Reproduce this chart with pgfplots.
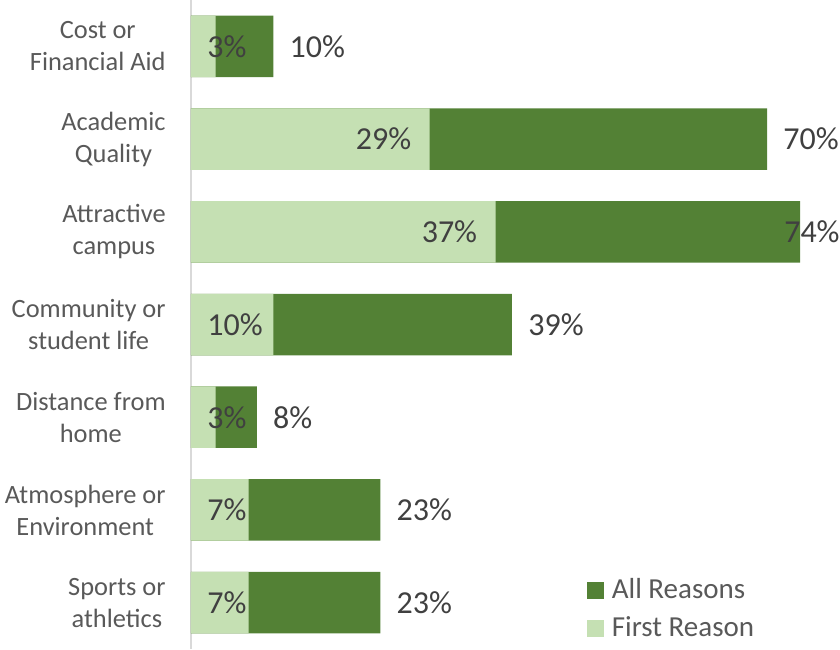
\documentclass[border=0pt]{standalone}
\usepackage{fontspec}
\setmainfont{Carlito}
\usepackage{pgfplots}
\pgfplotsset{compat=1.18}
\definecolor{darkg}{HTML}{538135}
\definecolor{lightg}{HTML}{C5E0B3}
\definecolor{labc}{HTML}{595959}
\definecolor{datc}{HTML}{404040}
\definecolor{axc}{HTML}{D9D9D9}
\begin{document}
\begin{tikzpicture}
\begin{axis}[
  at={(0,0)}, anchor=south west,
  scale only axis, width=324.5pt, height=324.5pt,
  xmin=0, xmax=78.86, ymin=-0.5, ymax=6.5, y dir=reverse,
  axis x line=none,
  axis y line*=left,
  y axis line style={draw=axc, line width=1pt, -},
  ytick={0,1,2,3,4,5,6},
  yticklabels={{Cost or\\Financial Aid},{Academic\\Quality},{Attractive\\campus},{Community or\\student life},{Distance from\\home},{Atmosphere or\\Environment},{Sports or\\athletics}},
  major tick length=0pt,
  yticklabel style={align=center, inner sep=0pt, xshift=-12.5pt, text=labc, font=\fontsize{13.2pt}{16pt}\selectfont},
  xbar, bar width=30.75pt, bar shift=0pt,
  clip=false,
  legend style={draw=none, fill=none, at={(axis cs:48.1,5.70)}, anchor=north west, inner sep=0pt, outer sep=0pt, font=\fontsize{14.5pt}{17pt}\selectfont, text=labc, row sep=3.5pt, cells={anchor=west}, /tikz/every odd column/.append style={column sep=2pt}},
  legend image code/.code={\fill[#1,draw=none] (0pt,-4.25pt) rectangle (8.5pt,4.25pt);},
]
\addplot[fill=darkg, draw=none] coordinates {(10,0) (70,1) (74,2) (39,3) (8,4) (23,5) (23,6)};
\addlegendentry{All Reasons}
\addplot[fill=lightg, draw=none] coordinates {(3,0) (29,1) (37,2) (10,3) (3,4) (7,5) (7,6)};
\addlegendentry{First Reason}
\begin{scope}[every node/.style={inner sep=0pt, text=datc, font=\fontsize{16pt}{19pt}\selectfont}]
% first-reason labels
\node[anchor=west] at (axis cs:1.944,0) {3\%};
\node[anchor=east, xshift=-9pt] at (axis cs:29,1) {29\%};
\node[anchor=east, xshift=-9pt] at (axis cs:37,2) {37\%};
\node[anchor=west] at (axis cs:1.944,3) {10\%};
\node[anchor=west] at (axis cs:1.944,4) {3\%};
\node[anchor=west] at (axis cs:1.944,5) {7\%};
\node[anchor=west] at (axis cs:1.944,6) {7\%};
% all-reason labels
\node[anchor=west, xshift=8pt] at (axis cs:10,0) {10\%};
\node[anchor=west, xshift=8pt] at (axis cs:70,1) {70\%};
\node[anchor=east] at (axis cs:78.86,2) {74\%};
\node[anchor=west, xshift=8pt] at (axis cs:39,3) {39\%};
\node[anchor=west, xshift=8pt] at (axis cs:8,4) {8\%};
\node[anchor=west, xshift=8pt] at (axis cs:23,5) {23\%};
\node[anchor=west, xshift=8pt] at (axis cs:23,6) {23\%};
\end{scope}
\end{axis}
\pgfresetboundingbox
\useasboundingbox (-95.5pt,0pt) rectangle (324.5pt,324.5pt);
\end{tikzpicture}
\end{document}
